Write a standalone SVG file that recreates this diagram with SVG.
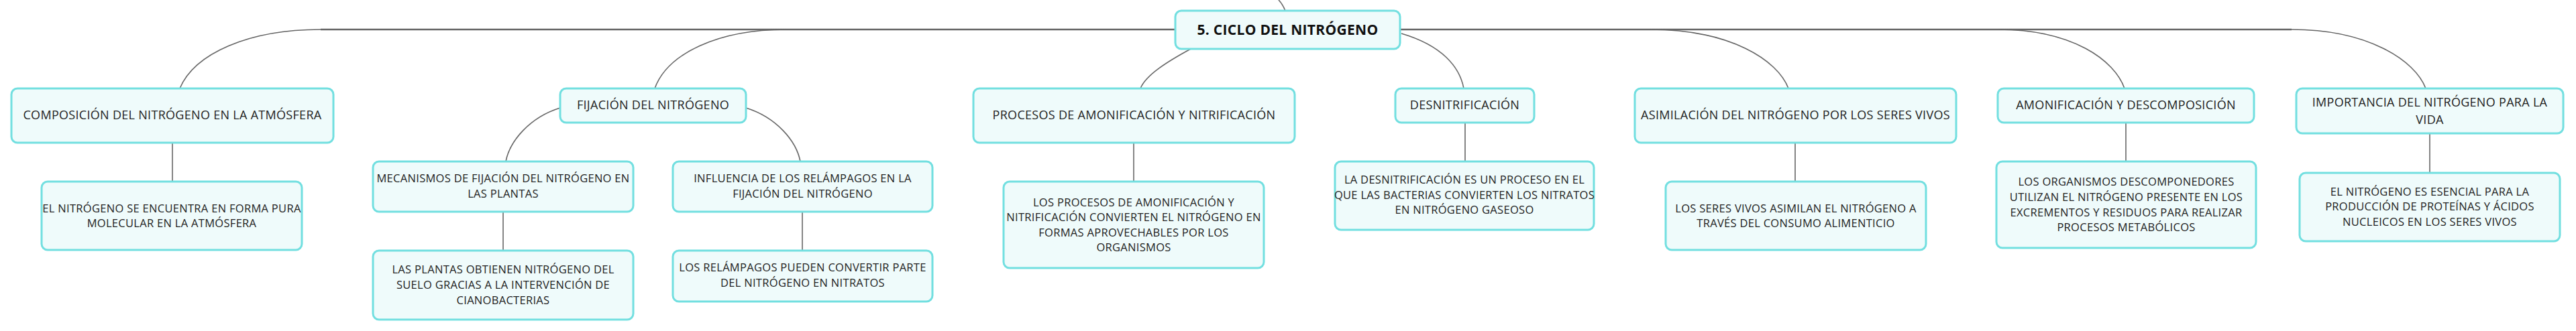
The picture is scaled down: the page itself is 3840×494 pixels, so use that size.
<svg xmlns="http://www.w3.org/2000/svg" width="3840" height="494" viewBox="0 0 3840 494">
<style>
.box{fill:#effbfb;stroke:#72dfe0;stroke-width:3}
.t{font-family:"Open Sans","Liberation Sans",sans-serif;fill:#222;text-anchor:middle}
.p{font-size:18px;letter-spacing:0.3px}
.c{font-size:16.5px;letter-spacing:0.3px}
.m{font-size:21px;font-weight:bold;fill:#111;letter-spacing:0.3px}
.ln{fill:none;stroke:#666;stroke-width:1.6}
.tr{fill:none;stroke:#666;stroke-width:2.4}
</style>
<rect width="3840" height="494" fill="#ffffff"/>
<g id="connectors">
<path class="ln" d="M1916 16 C1913 9 1910 4 1906 0"/>
<path class="tr" d="M1752 44 H478"/>
<path class="tr" d="M2087 44 H3416"/>
<path class="ln" d="M478 44 C370 44 290 80 268 132"/>
<path class="ln" d="M1172 44 C1070 44 995 80 976 132"/>
<path class="ln" d="M1775 73 C1740 92 1708 112 1700 132"/>
<path class="ln" d="M2089 50 C2150 68 2176 100 2182 132"/>
<path class="ln" d="M2459 44 C2580 44 2650 90 2666 132"/>
<path class="ln" d="M2978 44 C3090 44 3152 90 3167 132"/>
<path class="ln" d="M3416 44 C3530 44 3600 90 3616 132"/>
<path class="ln" d="M835 161 C790 175 760 210 754 241"/>
<path class="ln" d="M1112 161 C1157 175 1187 210 1193 241"/>
<path class="ln" d="M257 213 V271"/>
<path class="ln" d="M750 316 V374"/>
<path class="ln" d="M1196 316 V374"/>
<path class="ln" d="M1690 213 V271"/>
<path class="ln" d="M2184 183 V241"/>
<path class="ln" d="M2676 213 V271"/>
<path class="ln" d="M3169 183 V241"/>
<path class="ln" d="M3622 199 V258"/>
</g>
<g id="n-main"><rect class="box" x="1752" y="16" width="335" height="57" rx="9"/><text class="t m" x="1919.5" y="52">5. CICLO DEL NITRÓGENO</text></g>
<g id="n-composicion"><rect class="box" x="17" y="132" width="480" height="81" rx="9"/><text class="t p" x="257" y="178">COMPOSICIÓN DEL NITRÓGENO EN LA ATMÓSFERA</text></g>
<g id="n-composicion-1"><rect class="box" x="62" y="271" width="388" height="102" rx="9"/><text class="t c" x="256" y="317">EL NITRÓGENO SE ENCUENTRA EN FORMA PURA</text><text class="t c" x="256" y="339">MOLECULAR EN LA ATMÓSFERA</text></g>
<g id="n-fijacion"><rect class="box" x="835" y="132" width="277" height="51" rx="9"/><text class="t p" x="973.5" y="163">FIJACIÓN DEL NITRÓGENO</text></g>
<g id="n-mecanismos"><rect class="box" x="556" y="241" width="388" height="75" rx="9"/><text class="t c" x="750" y="272">MECANISMOS DE FIJACIÓN DEL NITRÓGENO EN</text><text class="t c" x="750" y="295">LAS PLANTAS</text></g>
<g id="n-plantas"><rect class="box" x="556" y="374" width="388" height="103" rx="9"/><text class="t c" x="750" y="408">LAS PLANTAS OBTIENEN NITRÓGENO DEL</text><text class="t c" x="750" y="431">SUELO GRACIAS A LA INTERVENCIÓN DE</text><text class="t c" x="750" y="454">CIANOBACTERIAS</text></g>
<g id="n-influencia"><rect class="box" x="1003" y="241" width="387" height="75" rx="9"/><text class="t c" x="1196.5" y="272">INFLUENCIA DE LOS RELÁMPAGOS EN LA</text><text class="t c" x="1196.5" y="295">FIJACIÓN DEL NITRÓGENO</text></g>
<g id="n-relampagos"><rect class="box" x="1003" y="374" width="387" height="76" rx="9"/><text class="t c" x="1196.5" y="405">LOS RELÁMPAGOS PUEDEN CONVERTIR PARTE</text><text class="t c" x="1196.5" y="428">DEL NITRÓGENO EN NITRATOS</text></g>
<g id="n-procesos"><rect class="box" x="1451" y="132" width="479" height="81" rx="9"/><text class="t p" x="1690.5" y="178">PROCESOS DE AMONIFICACIÓN Y NITRIFICACIÓN</text></g>
<g id="n-procesos-1"><rect class="box" x="1496" y="271" width="388" height="129" rx="9"/><text class="t c" x="1690" y="308">LOS PROCESOS DE AMONIFICACIÓN Y</text><text class="t c" x="1690" y="330">NITRIFICACIÓN CONVIERTEN EL NITRÓGENO EN</text><text class="t c" x="1690" y="353">FORMAS APROVECHABLES POR LOS</text><text class="t c" x="1690" y="375">ORGANISMOS</text></g>
<g id="n-desnitrificacion"><rect class="box" x="2080" y="132" width="207" height="51" rx="9"/><text class="t p" x="2183.5" y="163">DESNITRIFICACIÓN</text></g>
<g id="n-desnitrificacion-1"><rect class="box" x="1990" y="241" width="386" height="102" rx="9"/><text class="t c" x="2183" y="274">LA DESNITRIFICACIÓN ES UN PROCESO EN EL</text><text class="t c" x="2183" y="297">QUE LAS BACTERIAS CONVIERTEN LOS NITRATOS</text><text class="t c" x="2183" y="319">EN NITRÓGENO GASEOSO</text></g>
<g id="n-asimilacion"><rect class="box" x="2437" y="132" width="479" height="81" rx="9"/><text class="t p" x="2676.5" y="178">ASIMILACIÓN DEL NITRÓGENO POR LOS SERES VIVOS</text></g>
<g id="n-asimilacion-1"><rect class="box" x="2483" y="271" width="388" height="102" rx="9"/><text class="t c" x="2677" y="317">LOS SERES VIVOS ASIMILAN EL NITRÓGENO A</text><text class="t c" x="2677" y="339">TRAVÉS DEL CONSUMO ALIMENTICIO</text></g>
<g id="n-amonificacion"><rect class="box" x="2978" y="132" width="382" height="51" rx="9"/><text class="t p" x="3169" y="163">AMONIFICACIÓN Y DESCOMPOSICIÓN</text></g>
<g id="n-amonificacion-1"><rect class="box" x="2976" y="241" width="387" height="129" rx="9"/><text class="t c" x="3169.5" y="277">LOS ORGANISMOS DESCOMPONEDORES</text><text class="t c" x="3169.5" y="300">UTILIZAN EL NITRÓGENO PRESENTE EN LOS</text><text class="t c" x="3169.5" y="323">EXCREMENTOS Y RESIDUOS PARA REALIZAR</text><text class="t c" x="3169.5" y="345">PROCESOS METABÓLICOS</text></g>
<g id="n-importancia"><rect class="box" x="3423" y="132" width="398" height="67" rx="9"/><text class="t p" x="3622" y="159">IMPORTANCIA DEL NITRÓGENO PARA LA</text><text class="t p" x="3622" y="185">VIDA</text></g>
<g id="n-importancia-1"><rect class="box" x="3428" y="258" width="388" height="102" rx="9"/><text class="t c" x="3622" y="292">EL NITRÓGENO ES ESENCIAL PARA LA</text><text class="t c" x="3622" y="314">PRODUCCIÓN DE PROTEÍNAS Y ÁCIDOS</text><text class="t c" x="3622" y="337">NUCLEICOS EN LOS SERES VIVOS</text></g>
</svg>
